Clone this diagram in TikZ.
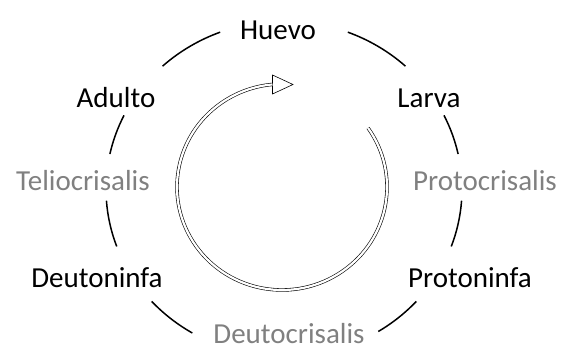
\documentclass[tikz,border=0pt]{standalone}
\usepackage{fontspec}
\setmainfont{Carlito}
\begin{document}
\begin{tikzpicture}[x=1pt,y=1pt,
  lbl/.style={anchor=base,inner sep=0pt,font=\fontsize{29}{34}\selectfont},
  stage/.style={lbl,text=black},
  pupa/.style={lbl,text=gray},
  ring/.style={line width=1.5pt,black},
  cyc/.style={double=white,double distance=2.2pt,line width=0.6pt,draw=black}]
\useasboundingbox (0,0) rectangle (562,351);
\coordinate (C) at (284,162);
\coordinate (I) at (282,164);
% labels
\node[stage] (huevo) at (278,311.5) {Huevo};
\node[stage] (larva) at (429,243) {Larva};
\node[stage] (adulto) at (116,243) {Adulto};
\node[pupa] (telio) at (83,160) {Teliocrisalis};
\node[pupa] (proto) at (485,160) {Protocrisalis};
\node[stage] (deuton) at (97,63.5) {Deutoninfa};
\node[stage] (proton) at (470,63.5) {Protoninfa};
\node[pupa] (deuto) at (289,8) {Deutocrisalis};
% outer ring arcs
\foreach \a/\b in {111/133,47/69,154/168,12/26,184/200,340/356,222/239,302/318}
  \draw[ring] (C) ++(\a:178 and 168) arc[start angle=\a,end angle=\b,x radius=178,y radius=168];
% inner cycle arrow
\draw[fill=white,line width=0.6pt] (272.5,276) -- (293,266.5) -- (272.5,257) -- cycle;
\draw[cyc] (I) ++(35:105 and 103) arc[start angle=35,end angle=-264.8,x radius=105,y radius=103];
\end{tikzpicture}
\end{document}
